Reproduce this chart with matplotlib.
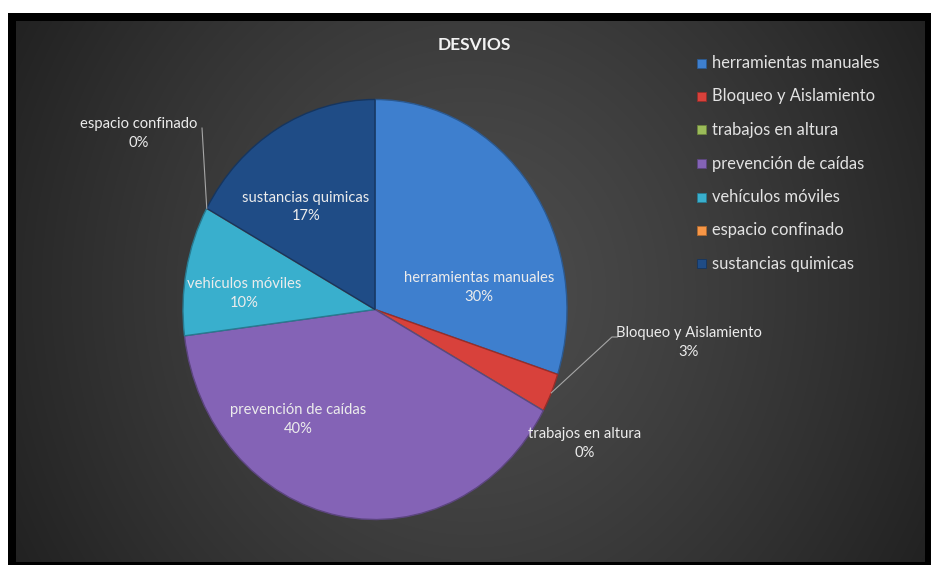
import numpy as np
import matplotlib.pyplot as plt
from matplotlib.patches import Rectangle
import matplotlib.colors as mcolors

# Chart data
categories = [
    "herramientas manuales",
    "Bloqueo y Aislamiento",
    "trabajos en altura",
    "prevención de caídas",
    "vehículos móviles",
    "espacio confinado",
    "sustancias quimicas",
]
shares = [30, 3, 0, 40, 10, 0, 17]
slice_colors = ["#3E7FCE", "#D8413B", "#9BBB59", "#8463B6", "#39AFCD", "#F79646", "#1F4C86"]
chart_title = "DESVIOS"

plt.rcParams["font.family"] = ["Lato", "DejaVu Sans"]

W, H = 931, 565
fig = plt.figure(figsize=(W / 100, H / 100), dpi=100, facecolor="white")


def box(x0, y0, x1, y1):
    """Pixel box (top-left origin) -> figure rect."""
    return [x0 / W, 1 - y1 / H, (x1 - x0) / W, (y1 - y0) / H]


# black frame
ax_frame = fig.add_axes(box(8, 13, 931, 565))
ax_frame.set_facecolor("black")
ax_frame.set_xticks([]); ax_frame.set_yticks([])
for s in ax_frame.spines.values():
    s.set_visible(False)

# dark radial-gradient plot area
ax_bg = fig.add_axes(box(16, 21, 925, 562))
gx = np.linspace(-1, 1, 600)
gy = np.linspace(-1, 1, 360)
X, Y = np.meshgrid(gx, gy)
d = np.sqrt(X ** 2 + (Y * 0.55) ** 2)
d = np.clip(d, 0, 1.2)
c_center, c_edge = 0.30, 0.14
val = c_center - (c_center - c_edge) * (d / 1.1) ** 1.3
val = np.clip(val, c_edge - 0.01, c_center)
ax_bg.imshow(np.dstack([val, val, val]), aspect="auto", extent=[0, 1, 0, 1], interpolation="bilinear")
ax_bg.axis("off")

# pie (slightly elliptical, as in the chart area)
cx, cy, rx, ry = 375, 309.5, 192, 210
ax = fig.add_axes(box(cx - rx, cy - ry, cx + rx, cy + ry))
ax.patch.set_alpha(0)
edge_cols = [tuple(np.array(mcolors.to_rgb(c)) * 0.7) for c in slice_colors]
wedges, _ = ax.pie(shares, colors=slice_colors, startangle=90, counterclock=False,
                   radius=1, wedgeprops=dict(linewidth=1.0))
for w, ec in zip(wedges, edge_cols):
    w.set_edgecolor(ec)
ax.set_aspect("auto")
ax.set_xlim(-1, 1)
ax.set_ylim(-1, 1)
ax.axis("off")

# label placement (pie-axes coordinates)
label_pos = [(0.542, 0.105), (1.633, -0.155), (1.091, -0.636), (-0.401, -0.526),
             (-0.682, 0.076), (-1.229, 0.840), (-0.359, 0.488)]
leaders = {1: [(1.234, -0.131), (1.262, -0.131)], 5: [(-0.901, 0.864)]}

cum = np.concatenate([[0], np.cumsum(shares)]) / sum(shares)
for i, (cat, val_) in enumerate(zip(categories, shares)):
    lx, ly = label_pos[i]
    ax.text(lx, ly, f"{cat}\n{val_}%", ha="center", va="center", fontsize=10.6,
            color="#ececec", linespacing=1.45, zorder=5)
    if i in leaders:
        mid = np.deg2rad(90 - 360 * (cum[i] + cum[i + 1]) / 2)
        pts = [(np.cos(mid), np.sin(mid))] + leaders[i]
        xs, ys = zip(*pts)
        ax.plot(xs, ys, color="#a6a6a6", lw=0.8, zorder=4, clip_on=False)

# title
fig.text(474 / W, 1 - 45 / H, chart_title, ha="center", va="center", fontsize=12.5,
         fontweight="bold", color="#f2f2f2")

# legend
for i, (cat, col) in enumerate(zip(categories, slice_colors)):
    yc = 63 + i * 33.5
    fig.add_artist(Rectangle((697 / W, 1 - (yc + 4.5) / H), 9 / W, 9 / H,
                             transform=fig.transFigure, facecolor=col,
                             edgecolor=tuple(np.array(mcolors.to_rgb(col)) * 0.7), lw=0.6))
    fig.text(712 / W, 1 - yc / H, cat, ha="left", va="center", fontsize=11.9, color="#e2e2e2")

fig.savefig("out.png", dpi=100, facecolor="white")
